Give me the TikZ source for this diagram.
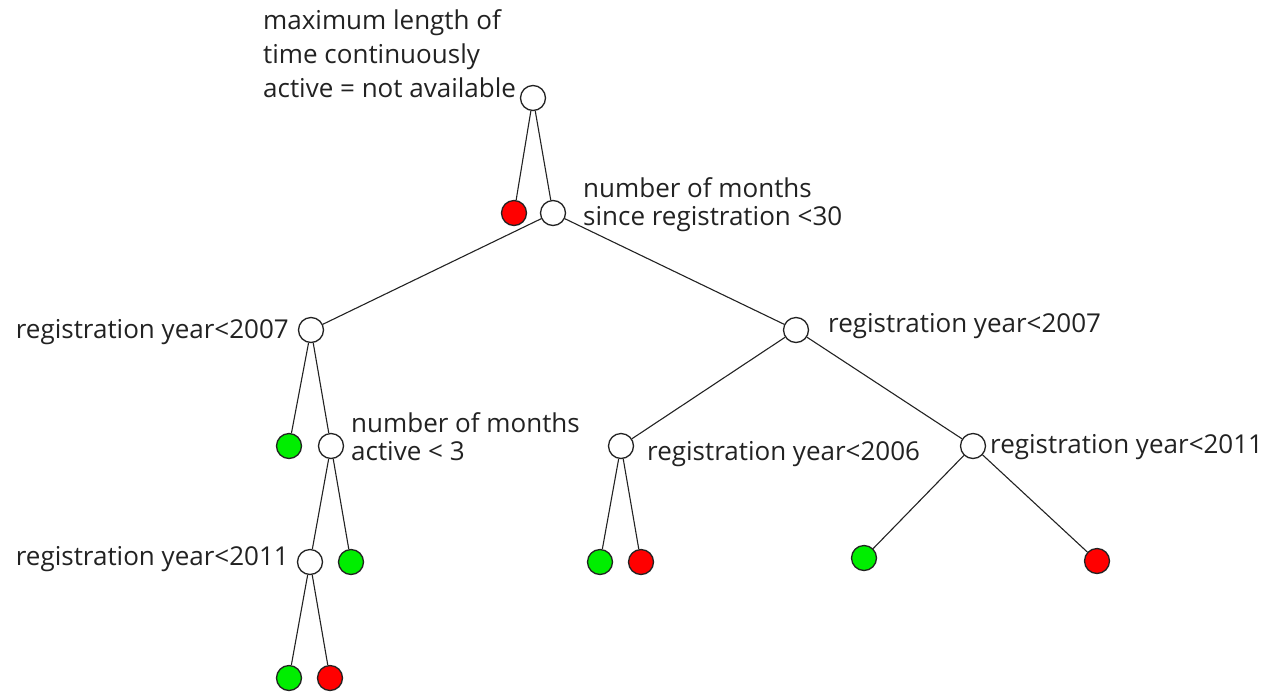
\documentclass[tikz,border=0pt]{standalone}
\usepackage{fontspec}
\setmainfont{Open Sans}
\definecolor{leafred}{HTML}{FF0000}
\definecolor{leafgreen}{HTML}{00EE00}
\definecolor{ink}{HTML}{222222}
\begin{document}
\begin{tikzpicture}[x=1pt,y=-1pt,
  every node/.style={inner sep=0pt},
  split/.style={circle,draw=ink,line width=1.3pt,fill=white,minimum size=25pt},
  redleaf/.style={split,fill=leafred},
  greenleaf/.style={split,fill=leafgreen},
  edge/.style={draw=ink,line width=1.1pt},
  lbl/.style={font=\fontsize{26}{28}\selectfont,text=ink,align=left},
  widelbl/.style={font=\fontsize{26}{34}\selectfont,text=ink,align=left}
]
\useasboundingbox (0,0) rectangle (1268,694);
% tree nodes
\node[split] (root) at (533,98) {};
\node[redleaf] (r1) at (514,213) {};
\node[split] (a) at (553,213) {};
\node[split] (b) at (311,330) {};
\node[split] (c) at (796,330) {};
\node[greenleaf] (b1) at (289,446) {};
\node[split] (d) at (331,446) {};
\node[split] (e) at (310,562) {};
\node[greenleaf] (d2) at (351,562) {};
\node[greenleaf] (e1) at (289,678) {};
\node[redleaf] (e2) at (330,678) {};
\node[split] (f) at (621,446) {};
\node[split] (g) at (973,446) {};
\node[greenleaf] (f1) at (600,562) {};
\node[redleaf] (f2) at (641,562) {};
\node[greenleaf] (g1) at (864,558) {};
\node[redleaf] (g2) at (1097,561) {};
% branches
\draw[edge] (root) -- (r1) (root) -- (a)
  (a) -- (b) (a) -- (c)
  (b) -- (b1) (b) -- (d)
  (d) -- (e) (d) -- (d2)
  (e) -- (e1) (e) -- (e2)
  (c) -- (f) (c) -- (g)
  (f) -- (f1) (f) -- (f2)
  (g) -- (g1) (g) -- (g2);
% split labels (base anchor sits on the last line)
\node[widelbl,anchor=base west] (lroot) at (263,97) {maximum length of\\time continuously\\active = not available};
\node[lbl,anchor=base west] (la) at (583,225) {number of months\\since registration <30};
\node[lbl,anchor=base east] (lb) at (289,338) {registration year<2007};
\node[lbl,anchor=base west] (lc) at (828,332) {registration year<2007};
\node[lbl,anchor=base west] (ld) at (351,460) {number of months\\active < 3};
\node[lbl,anchor=base west] (lf) at (647,460) {registration year<2006};
\node[lbl,anchor=base west] (lg) at (990,453) {registration year<2011};
\node[lbl,anchor=base east] (le) at (289,565) {registration year<2011};
\end{tikzpicture}
\end{document}
